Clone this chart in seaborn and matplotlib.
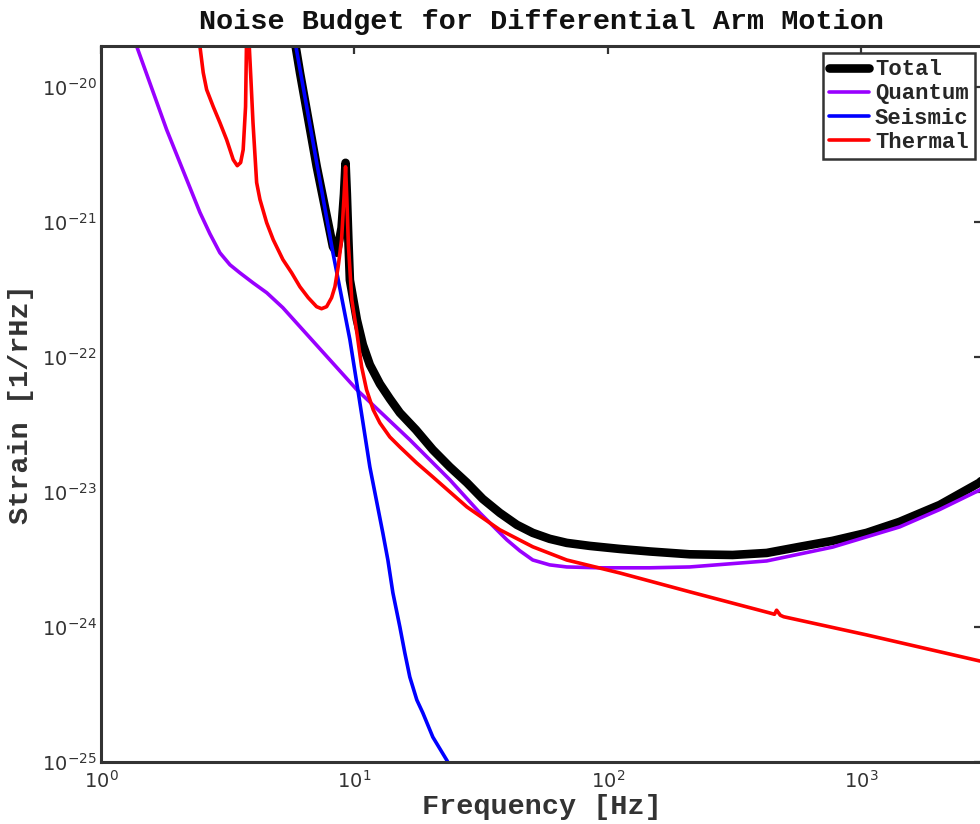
import numpy as np
import pandas as pd
import matplotlib
matplotlib.use("Agg")
import matplotlib.pyplot as plt
from matplotlib.ticker import NullLocator
import seaborn as sns

# ---- data ----
total_f = [5.72, 6.10, 7.10, 8.23, 8.53, 8.90, 9.10, 9.23, 9.34, 9.47, 9.60, 10.23, 10.80, 11.51,
           12.61, 13.8, 15.12, 17.5, 20.4, 23.8, 27.8, 32.1, 37.5, 43.8, 50.6, 59.0, 68.9, 85.0,
           111.5, 146.5, 210.6, 311, 424, 572, 772, 1051, 1419, 2042, 2932, 3100]
total_s = [2.64e-20, 1.27e-20, 2.57e-21, 6.53e-22, 5.89e-22, 9.0e-22, 1.6e-21, 2.73e-21, 1.6e-21,
           7.36e-22, 3.7e-22, 1.88e-22, 1.23e-22, 8.73e-23, 6.3e-23, 4.89e-23, 3.85e-23, 2.88e-23,
           2.05e-23, 1.53e-23, 1.17e-23, 8.87e-24, 6.99e-24, 5.70e-24, 4.97e-24, 4.49e-24, 4.19e-24,
           3.98e-24, 3.78e-24, 3.62e-24, 3.45e-24, 3.41e-24, 3.53e-24, 3.92e-24, 4.34e-24, 4.97e-24,
           6.0e-24, 8.0e-24, 1.17e-23, 1.3e-23]

quantum_f = [1.30, 1.383, 1.816, 2.458, 2.69, 2.946, 3.228, 3.53, 3.98, 4.51, 5.22, 6.10, 10.23,
             16.55, 23.8, 31.3, 40.0, 45.0, 50.6, 59.0, 68.9, 93, 111.5, 146.5, 210.6, 424, 772,
             1419, 2042, 2932, 3100]
quantum_s = [2.9e-20, 1.99e-20, 4.80e-21, 1.17e-21, 8.15e-22, 5.89e-22, 4.80e-22, 4.19e-22,
             3.53e-22, 2.98e-22, 2.31e-22, 1.67e-22, 5.70e-23, 2.43e-23, 1.23e-23, 6.98e-24,
             4.41e-24, 3.66e-24, 3.13e-24, 2.88e-24, 2.78e-24, 2.74e-24, 2.74e-24, 2.74e-24,
             2.78e-24, 3.08e-24, 3.9e-24, 5.5e-24, 7.4e-24, 1.03e-23, 1.1e-23]

seismic_f = [5.60, 5.88, 7.10, 8.23, 9.60, 10.32, 11.51, 12.95, 13.56, 14.19, 15.12, 15.82, 16.55,
             17.64, 18.63, 20.4, 23.17, 26.0]
seismic_s = [3.3e-20, 1.98e-20, 2.74e-21, 5.89e-22, 1.34e-22, 5.70e-23, 1.53e-23, 4.97e-24,
             3.13e-24, 1.79e-24, 1.0e-24, 6.41e-25, 4.26e-25, 2.88e-25, 2.31e-25, 1.53e-25,
             1.03e-25, 7.0e-26]

thermal_f = [2.413, 2.458, 2.532, 2.612, 2.773, 2.947, 3.132, 3.326, 3.45, 3.557, 3.64, 3.72,
             3.75, 3.785, 3.837, 3.906, 3.98, 4.114, 4.24, 4.506, 4.783, 5.224, 5.653, 6.096,
             6.574, 7.095, 7.42, 7.77, 8.13, 8.38, 8.63, 8.90, 9.09, 9.23, 9.34, 9.47, 9.77,
             10.23, 10.68, 11.17, 11.87, 12.61, 13.8, 15.12, 17.6, 20.4, 23.8, 27.8, 32.1, 37.5,
             50.6, 68.9, 111.5, 210.6, 435.5, 455, 464, 480, 494.5, 1051, 2935, 3100]
thermal_s = [2.64e-20, 1.98e-20, 1.27e-20, 9.5e-21, 7.11e-21, 5.41e-21, 4.05e-21, 2.88e-21,
             2.60e-21, 2.74e-21, 3.41e-21, 7.1e-21, 1.98e-20, 1.23e-19, 2.2e-20, 1.13e-20,
             5.41e-21, 1.95e-21, 1.46e-21, 9.84e-22, 7.36e-22, 5.24e-22, 4.19e-22, 3.30e-22,
             2.74e-22, 2.35e-22, 2.27e-22, 2.35e-22, 2.74e-22, 3.30e-22, 4.64e-22, 7.36e-22,
             1.46e-21, 2.55e-21, 1.46e-21, 6.76e-22, 2.64e-22, 1.51e-22, 8.44e-23, 5.70e-23,
             4.05e-23, 3.24e-23, 2.55e-23, 2.15e-23, 1.64e-23, 1.29e-23, 1.0e-23, 7.74e-24,
             6.41e-24, 5.24e-24, 3.92e-24, 3.13e-24, 2.51e-24, 1.82e-24, 1.27e-24, 1.24e-24,
             1.33e-24, 1.22e-24, 1.19e-24, 8.73e-25, 5.6e-25, 5.5e-25]

title = "Noise Budget for Differential Arm Motion"
xlabel = "Frequency [Hz]"
ylabel = "Strain [1/rHz]"

# ---- plot ----
sns.set_style("white")
plt.rcParams['font.family'] = ['DejaVu Sans']
plt.rcParams['mathtext.fontset'] = 'dejavusans'

fig = plt.figure(figsize=(9.8, 8.24), dpi=100)
ax = fig.add_axes([101/980, 1-762/824, (982-101)/980, (762-46)/824])
ax.set_xscale('log')
ax.set_yscale('log')

series = [
    ("Total", total_f, total_s, "#000000", 6.2),
    ("Quantum", quantum_f, quantum_s, "#9900ff", 2.6),
    ("Seismic", seismic_f, seismic_s, "#0000ff", 2.6),
    ("Thermal", thermal_f, thermal_s, "#ff0000", 2.6),
]
for name, f, s, c, lw in series:
    df = pd.DataFrame({"f": f, "s": s})
    sns.lineplot(data=df, x="f", y="s", ax=ax, color=c, linewidth=lw, label=name,
                 estimator=None, sort=False, solid_joinstyle='round', solid_capstyle='round')

ax.set_xlim(1, 3000)
ax.set_ylim(1e-25, 2e-20)
ax.xaxis.set_minor_locator(NullLocator())
ax.yaxis.set_minor_locator(NullLocator())
ax.set_xticks([1, 10, 100, 1000])
ax.set_yticks([1e-25, 1e-24, 1e-23, 1e-22, 1e-21, 1e-20])

for sp in ax.spines.values():
    sp.set_color("#333333")
    sp.set_linewidth(2.2)
ax.tick_params(which='major', direction='in', length=6, width=1.6, color="#333333",
               top=True, right=True, labelsize=14, labelcolor="#333333")
ax.tick_params(axis='x', pad=6)
ax.tick_params(axis='y', pad=3)

mono = ['Liberation Mono', 'DejaVu Sans Mono']
ax.set_title(title, family=mono, fontweight='bold', fontsize=20.5, color="#111111", pad=12)
ax.set_xlabel(xlabel, family=mono, fontweight='bold', fontsize=20.5, color="#333333", labelpad=1)
ax.set_ylabel(ylabel, family=mono, fontweight='bold', fontsize=20.5, color="#333333", labelpad=6)

leg = ax.legend(loc='upper right', prop={'family': mono, 'weight': 'bold', 'size': 16},
                frameon=True, fancybox=False, borderaxespad=0.3, handlelength=1.8,
                handletextpad=0.25, labelspacing=0.14, borderpad=0.3)
leg.get_frame().set_edgecolor("#333333")
leg.get_frame().set_linewidth(1.8)
leg.get_frame().set_alpha(1)

fig.savefig("out.png", dpi=100)
